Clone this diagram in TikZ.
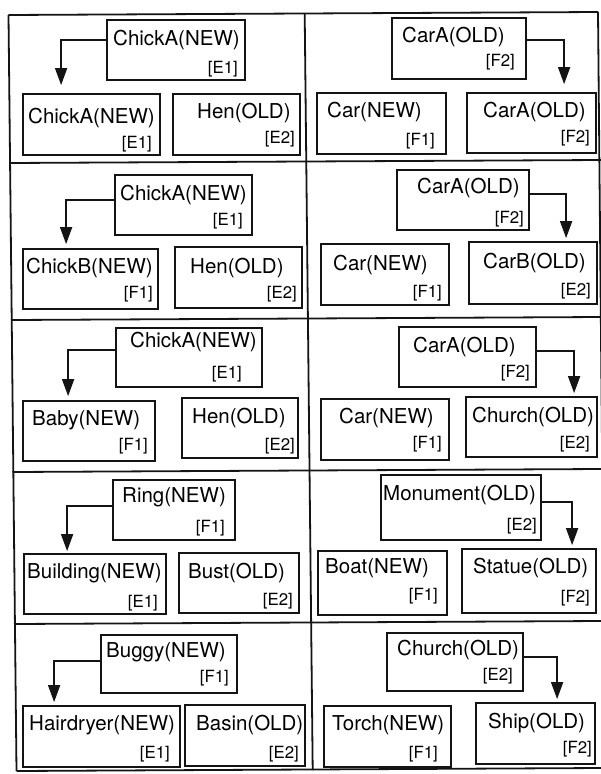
\documentclass[tikz,border=0pt]{standalone}
\usepackage{fontspec}
\setmainfont{TeX Gyre Heros}
\usetikzlibrary{arrows.meta,fit}
\tikzset{
  boxst/.style={draw=black!92, line width=1.8pt, inner sep=0pt},
  ttl/.style={anchor=base west, inner sep=0pt, font=\fontsize{20.5}{22}\selectfont, text=black},
  lbl/.style={anchor=base east, inner sep=0pt, font=\fontsize{16.8}{18}\selectfont, text=black},
  arr/.style={draw=black!92, line width=1.6pt, -{Triangle[length=17pt,width=12pt]}},
  frame/.style={draw=black!92, line width=1.8pt}
}
\newcommand\mybox[7]{%
  \node[boxst, fit={#2 #3}] (#1) {};
  \node[ttl] (#1t) at #5 {#4};
  \node[lbl] (#1l) at #7 {#6};
}
\begin{document}
\begin{tikzpicture}[x=1pt,y=-1pt]
\useasboundingbox (0,0) rectangle (601,774);
\fill[white] (0,0) rectangle (601,774);
% frame
\draw[frame] (8.5,15) -- (598,12);
\draw[frame] (9.5,163) -- (601,160);
\draw[frame] (11,320) -- (601,317);
\draw[frame] (12.5,472) -- (601,469);
\draw[frame] (14,624) -- (601,621);
\draw[frame] (16.5,771) -- (601,768);
\draw[frame] (8.5,15) -- (16.5,771);
\draw[frame] (304.7,14) -- (312.7,770);
\draw[frame] (598,12) -- (605,768);
% panel 1 left
\mybox{p1t}{(107,20)}{(245,80)}{ChickA(NEW)}{(113,45)}{[E1]}{(238,73)}
\mybox{p1a}{(23,94)}{(160,155)}{ChickA(NEW)}{(28,123)}{[E1]}{(152,148)}
\mybox{p1b}{(173,94)}{(300,155)}{Hen(OLD)}{(197,118)}{[E2]}{(295,143)}
\draw[arr, shorten >=8pt] ([yshift=-21pt]p1t.north west) -| ([xshift=39pt]p1a.north west);
% panel 1 right
\mybox{q1t}{(392,18)}{(526,79)}{CarA(OLD)}{(402,42)}{[F2]}{(515,66)}
\mybox{q1a}{(317,93)}{(446,154)}{Car(NEW)}{(327,117)}{[F1]}{(435,145)}
\mybox{q1b}{(467,93)}{(596,153)}{CarA(OLD)}{(483,117)}{[F2]}{(590,142)}
\draw[arr, shorten >=8pt] ([yshift=-23pt]q1t.north east) -| ([xshift=98pt]q1b.north west);
% panel 2 left
\mybox{p2t}{(115,175)}{(252,235)}{ChickA(NEW)}{(120,200)}{[E1]}{(243,225)}
\mybox{p2a}{(23,249)}{(158,309)}{ChickB(NEW)}{(26,273)}{[F1]}{(153,298)}
\mybox{p2b}{(175,247)}{(302,308)}{Hen(OLD)}{(190,273)}{[E2]}{(297,298)}
\draw[arr, shorten >=4pt] ([yshift=-26pt]p2t.north west) -| ([xshift=44pt]p2a.north west);
% panel 2 right
\mybox{q2t}{(397,170)}{(529,230)}{CarA(OLD)}{(417,193)}{[F2]}{(524,223)}
\mybox{q2a}{(321,244)}{(449,305)}{Car(NEW)}{(333,270)}{[F1]}{(442,297)}
\mybox{q2b}{(469,242)}{(597,304)}{CarB(OLD)}{(483,268)}{[E2]}{(591,295)}
\draw[arr, shorten >=3pt] ([yshift=-25pt]q2t.north east) -| ([xshift=98pt]q2b.north west);
% panel 3 left
\mybox{p3t}{(116,328)}{(262,387)}{ChickA(NEW)}{(130,347)}{[E1]}{(242,378)}
\mybox{p3a}{(23,401)}{(155,461)}{Baby(NEW)}{(32,425)}{[F1]}{(148,450)}
\mybox{p3b}{(182,398)}{(298,458)}{Hen(OLD)}{(192,423)}{[E2]}{(295,450)}
\draw[arr, shorten >=4pt] ([yshift=-23pt]p3t.north west) -| ([xshift=46pt]p3a.north west);
% panel 3 right
\mybox{q3t}{(399,327)}{(536,387)}{CarA(OLD)}{(413,352)}{[F2]}{(530,377)}
\mybox{q3a}{(321,399)}{(449,460)}{Car(NEW)}{(339,423)}{[F1]}{(442,448)}
\mybox{q3b}{(466,397)}{(597,457)}{Church(OLD)}{(472,422)}{[E2]}{(590,448)}
\draw[arr, shorten >=3pt] ([yshift=-25pt]q3t.north east) -| ([xshift=109pt]q3b.north west);
% panel 4 left
\mybox{p4t}{(113,480)}{(235,540)}{Ring(NEW)}{(122,502)}{[F1]}{(225,532)}
\mybox{p4a}{(24,554)}{(166,614)}{Building(NEW)}{(27,578)}{[E1]}{(158,607)}
\mybox{p4b}{(179,553)}{(299,613)}{Bust(OLD)}{(188,578)}{[E2]}{(293,605)}
\draw[arr, shorten >=2pt] ([yshift=-27pt]p4t.north west) -| ([xshift=44pt]p4a.north west);
% panel 4 right
\mybox{q4t}{(381,475)}{(541,540)}{Monument(OLD)}{(383,500)}{[E2]}{(537,530)}
\mybox{q4a}{(318,551)}{(447,615)}{Boat(NEW)}{(325,573)}{[F1]}{(438,600)}
\mybox{q4b}{(462,549)}{(596,613)}{Statue(OLD)}{(473,573)}{[F2]}{(590,602)}
\draw[arr, shorten >=3pt] ([yshift=-28pt]q4t.north east) -| ([xshift=111pt]q4b.north west);
% panel 5 left
\mybox{p5t}{(101,635)}{(237,693)}{Buggy(NEW)}{(106,657)}{[F1]}{(229,682)}
\mybox{p5a}{(23,706)}{(180,767)}{Hairdryer(NEW)}{(29,730)}{[E1]}{(170,758)}
\mybox{p5b}{(185,705)}{(305,766)}{Basin(OLD)}{(196,730)}{[E2]}{(299,758)}
\draw[arr, shorten >=3pt] ([yshift=-27pt]p5t.north west) -| ([xshift=32pt]p5a.north west);
% panel 5 right
\mybox{q5t}{(387,633)}{(523,691)}{Church(OLD)}{(397,655)}{[E2]}{(513,680)}
\mybox{q5a}{(324,706)}{(451,767)}{Torch(NEW)}{(332,730)}{[F1]}{(438,758)}
\mybox{q5b}{(476,703)}{(595,764)}{Ship(OLD)}{(488,728)}{[F2]}{(592,753)}
\draw[arr, shorten >=3pt] ([yshift=-25pt]q5t.north east) -| ([xshift=82pt]q5b.north west);
\end{tikzpicture}
\end{document}
